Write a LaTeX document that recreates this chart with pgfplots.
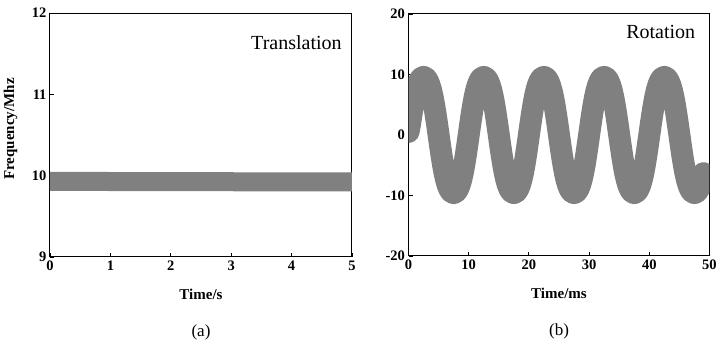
\documentclass[border=0pt]{standalone}
\usepackage{pgfplots}
\pgfplotsset{compat=1.18}
\usepackage{fontspec}
\setmainfont{Liberation Serif}
\definecolor{bandgray}{RGB}{128,128,128}
\pgfplotsset{
  myaxis/.style={
    scale only axis,
    axis line style={line width=1pt,black},
    tick style={line width=0.9pt,black},
    tick align=inside,
    major tick length=4pt,
    xtick pos=bottom, ytick pos=left,
    minor tick num=0,
    ticklabel style={font=\fontsize{14.5}{16}\selectfont\bfseries},
    /pgf/number format/assume math mode=true,
    xlabel style={font=\fontsize{15}{17}\selectfont\bfseries, at={(axis description cs:0.5,-0.155)}, anchor=center},
    ylabel style={font=\fontsize{15}{17}\selectfont\bfseries},
    clip=true,
  }
}
\begin{document}
\begin{tikzpicture}
\useasboundingbox (0pt,0pt) rectangle (724pt,343pt);
\begin{axis}[myaxis,
  at={(50pt,86pt)}, anchor=south west,
  width=302pt, height=244pt,
  xmin=0, xmax=5, ymin=9, ymax=12,
  xtick={0,1,2,3,4,5}, ytick={9,10,11,12},
  xlabel={Time/s},
  ylabel={Frequency/Mhz},
  ylabel style={at={(axis description cs:-0.131,0.525)}, anchor=center},
  extra description/.code={
    \node[font=\fontsize{20}{22}\selectfont] at (axis description cs:0.816,0.877) {Translation};
    \node[font=\fontsize{17}{19}\selectfont] at (axis description cs:0.5,-0.31) {(a)};
  },
]
\addplot[color=bandgray, line width=19pt, line cap=butt] coordinates {(-0.2,9.93) (5.2,9.922)};
\end{axis}
\begin{axis}[myaxis,
  at={(408.5pt,87pt)}, anchor=south west,
  width=301pt, height=242pt,
  xmin=0, xmax=50, ymin=-20, ymax=20,
  xtick={0,10,20,30,40,50}, ytick={-20,-10,0,10,20},
  xlabel={Time/ms},
  extra description/.code={
    \node[font=\fontsize{20}{22}\selectfont] at (axis description cs:0.838,0.926) {Rotation};
    \node[font=\fontsize{17}{19}\selectfont] at (axis description cs:0.5,-0.31) {(b)};
  },
]
\addplot[color=bandgray, line width=22pt, line cap=round, line join=round] coordinates {
(0,0.5) (0.25,1.77) (0.5,3.45) (0.75,4.98) (1,6.31) (1.25,7.40) (1.5,8.25) (1.75,8.87) (2,9.29) (2.25,9.52)
(2.5,9.60) (2.75,9.52) (3,9.29) (3.25,8.87) (3.5,8.25) (3.75,7.40) (4,6.31) (4.25,4.98) (4.5,3.45) (4.75,1.77)
(5,0) (5.25,-1.77) (5.5,-3.45) (5.75,-4.98) (6,-6.31) (6.25,-7.40) (6.5,-8.25) (6.75,-8.87) (7,-9.29) (7.25,-9.52)
(7.5,-9.60) (7.75,-9.52) (8,-9.29) (8.25,-8.87) (8.5,-8.25) (8.75,-7.40) (9,-6.31) (9.25,-4.98) (9.5,-3.45) (9.75,-1.77)
(10,0) (10.25,1.77) (10.5,3.45) (10.75,4.98) (11,6.31) (11.25,7.40) (11.5,8.25) (11.75,8.87) (12,9.29) (12.25,9.52)
(12.5,9.60) (12.75,9.52) (13,9.29) (13.25,8.87) (13.5,8.25) (13.75,7.40) (14,6.31) (14.25,4.98) (14.5,3.45) (14.75,1.77)
(15,0) (15.25,-1.77) (15.5,-3.45) (15.75,-4.98) (16,-6.31) (16.25,-7.40) (16.5,-8.25) (16.75,-8.87) (17,-9.29) (17.25,-9.52)
(17.5,-9.60) (17.75,-9.52) (18,-9.29) (18.25,-8.87) (18.5,-8.25) (18.75,-7.40) (19,-6.31) (19.25,-4.98) (19.5,-3.45) (19.75,-1.77)
(20,0) (20.25,1.77) (20.5,3.45) (20.75,4.98) (21,6.31) (21.25,7.40) (21.5,8.25) (21.75,8.87) (22,9.29) (22.25,9.52)
(22.5,9.60) (22.75,9.52) (23,9.29) (23.25,8.87) (23.5,8.25) (23.75,7.40) (24,6.31) (24.25,4.98) (24.5,3.45) (24.75,1.77)
(25,0) (25.25,-1.77) (25.5,-3.45) (25.75,-4.98) (26,-6.31) (26.25,-7.40) (26.5,-8.25) (26.75,-8.87) (27,-9.29) (27.25,-9.52)
(27.5,-9.60) (27.75,-9.52) (28,-9.29) (28.25,-8.87) (28.5,-8.25) (28.75,-7.40) (29,-6.31) (29.25,-4.98) (29.5,-3.45) (29.75,-1.77)
(30,0) (30.25,1.77) (30.5,3.45) (30.75,4.98) (31,6.31) (31.25,7.40) (31.5,8.25) (31.75,8.87) (32,9.29) (32.25,9.52)
(32.5,9.60) (32.75,9.52) (33,9.29) (33.25,8.87) (33.5,8.25) (33.75,7.40) (34,6.31) (34.25,4.98) (34.5,3.45) (34.75,1.77)
(35,0) (35.25,-1.77) (35.5,-3.45) (35.75,-4.98) (36,-6.31) (36.25,-7.40) (36.5,-8.25) (36.75,-8.87) (37,-9.29) (37.25,-9.52)
(37.5,-9.60) (37.75,-9.52) (38,-9.29) (38.25,-8.87) (38.5,-8.25) (38.75,-7.40) (39,-6.31) (39.25,-4.98) (39.5,-3.45) (39.75,-1.77)
(40,0) (40.25,1.77) (40.5,3.45) (40.75,4.98) (41,6.31) (41.25,7.40) (41.5,8.25) (41.75,8.87) (42,9.29) (42.25,9.52)
(42.5,9.60) (42.75,9.52) (43,9.29) (43.25,8.87) (43.5,8.25) (43.75,7.40) (44,6.31) (44.25,4.98) (44.5,3.45) (44.75,1.77)
(45,0) (45.25,-1.77) (45.5,-3.45) (45.75,-4.98) (46,-6.31) (46.25,-7.40) (46.5,-8.25) (46.75,-8.87) (47,-9.29) (47.25,-9.52)
(47.5,-9.60) (47.75,-9.52) (48,-9.29) (48.25,-8.87) (48.5,-8.25) (48.75,-7.40) (49,-6.31)
};
\end{axis}
\end{tikzpicture}
\end{document}
